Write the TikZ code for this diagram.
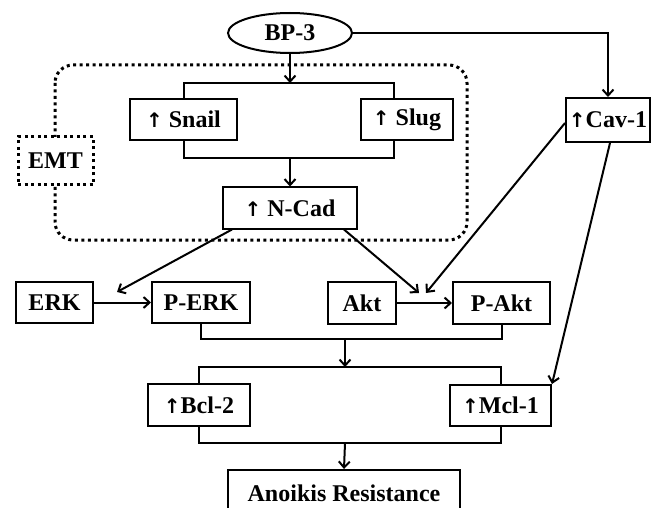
\documentclass[tikz,border=0pt]{standalone}
\usepackage{fontspec}
\setmainfont{Liberation Serif}
\newfontfamily\arrfont{DejaVu Sans}
\newcommand{\upa}{{\arrfont\fontsize{20}{24}\selectfont\bfseries ↑}}
\usetikzlibrary{arrows.meta,shapes.geometric}
\begin{document}
\begin{tikzpicture}[x=1pt,y=-1pt,
  every node/.style={font=\fontsize{24}{28}\selectfont\bfseries},
  box/.style={draw,line width=2pt,fill=white,inner sep=0pt,minimum width=#1,minimum height=41pt},
  conn/.style={line width=2pt},
  arr/.style={conn,-{Straight Barb[length=6pt,width=11pt,line width=2pt]}},
  dots/.style={line width=3pt,dash pattern=on 3pt off 3.5pt}]
\useasboundingbox (0,0) rectangle (651,508);
% EMT group
\draw[dots,rounded corners=18pt] (55,65) rectangle (467,240);
\node[box=75pt,minimum height=48pt,dots,draw] (emt) at (55.5,161) {EMT};
% nodes
\node[draw,ellipse,line width=2pt,fill=white,minimum width=124pt,minimum height=40pt,inner sep=0pt] (bp) at (290,33) {BP-3};
\node[box=107pt] (snail) at (183.5,119.5) {\upa\ Snail};
\node[box=92pt] (slug) at (407,119.5) {\upa\ Slug};
\node[box=134pt] (ncad) at (290,208) {\upa\ N-Cad};
\node[box=84pt,minimum height=44pt] (cav) at (608,120) {\upa Cav-1};
\node[box=77pt] (erk) at (54.5,302.5) {ERK};
\node[box=98pt] (perk) at (201,302.5) {P-ERK};
\node[box=68pt,minimum height=42pt] (akt) at (362,303) {Akt};
\node[box=97pt,minimum height=42pt] (pakt) at (501.5,303) {P-Akt};
\node[box=102pt,minimum height=42pt] (bcl) at (199,405) {\upa Bcl-2};
\node[box=101pt] (mcl) at (500.5,405.5) {\upa Mcl-1};
\node[box=232pt,minimum height=46pt] (ano) at (344,493) {Anoikis Resistance};
% coordinates
\coordinate (b1) at (290,83);
\coordinate (b2) at (290,158);
\coordinate (e1) at (117,292);
\coordinate (a1) at (419,293);
\coordinate (a2) at (426,293);
\coordinate (b3) at (345,339);
\coordinate (b4) at (345,367);
\coordinate (b5) at (345,443);
% connectors
\draw[arr] (bp.south) -- (b1);
\draw[conn] (snail.north) |- (b1) -| ([xshift=-13pt]slug.north);
\draw[conn] (snail.south) |- (b2) -| ([xshift=-13pt]slug.south);
\draw[arr] (b2) -- (ncad.north);
\draw[arr] (bp.east) -| (cav.north);
\draw[arr] ([xshift=10pt]ncad.south west) -- (e1);
\draw[arr] ([xshift=-14pt]ncad.south east) -- (a1);
\draw[arr] ([yshift=-3pt]cav.west) -- (a2);
\draw[arr] ([xshift=2pt]cav.south) -- (mcl.north east);
\draw[arr] (erk.east) -- (perk.west);
\draw[arr] (akt.east) -- (pakt.west);
\draw[conn] (perk.south) |- (b3) -| (pakt.south);
\draw[arr] (b3) -- (b4);
\draw[conn] (bcl.north) |- (b4) -| (mcl.north);
\draw[conn] (bcl.south) |- (b5) -| (mcl.south);
\draw[arr] (b5) -- (ano.north);
\end{tikzpicture}
\end{document}
